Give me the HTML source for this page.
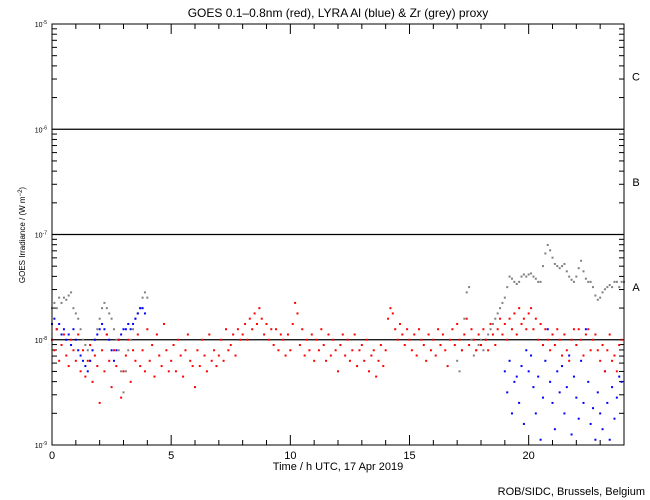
<!DOCTYPE html>
<html><head><meta charset="utf-8"><style>
body{margin:0;background:#fff;}
svg{display:block;font-family:"Liberation Sans",sans-serif;}
</style></head><body>
<svg id="chart" width="650" height="500">
<rect width="650" height="500" fill="#fff"/>
<text x="338" y="17" font-size="12" text-anchor="middle">GOES 0.1–0.8nm (red), LYRA Al (blue) &amp; Zr (grey) proxy</text>
<text x="338" y="470" font-size="11" text-anchor="middle">Time / h UTC, 17 Apr 2019</text>
<text x="645" y="495" font-size="11" text-anchor="end">ROB/SIDC, Brussels, Belgium</text>
<text transform="translate(25,235) rotate(-90)" font-size="8" text-anchor="middle">GOES Irradiance / (W m<tspan dy="-3" font-size="6">−2</tspan><tspan dy="3">)</tspan></text>
<g id="axes"></g>
<g id="series"></g>
<rect x="52" y="24" width="572" height="421" fill="none" stroke="#000" stroke-width="1"/>
</svg>
<script>
const xTicks=[0,5,10,15,20];
const yDecades=[-9,-8,-7,-6,-5];
const classLabels=["A","B","C"];
const redValues=[
0.0,-0.1,0.1,-0.2,-0.05,0.05,-0.15,-0.25,0.0,-0.1,
-0.2,0.05,-0.3,-0.1,-0.35,-0.2,-0.05,-0.4,-0.15,-0.25,
-0.6,-0.1,-0.3,0.05,-0.2,-0.45,-0.1,-0.25,0.0,-0.55,
-0.3,-0.15,0.0,-0.4,-0.1,-0.2,0.05,-0.25,-0.1,-0.3,
0.1,-0.2,-0.05,-0.35,0.05,-0.15,-0.25,0.15,-0.1,-0.3,
-0.2,-0.05,-0.3,0.0,-0.15,-0.35,-0.1,0.05,-0.2,-0.25,
-0.45,-0.1,-0.25,0.0,-0.15,-0.3,0.05,-0.2,-0.1,-0.25,
-0.15,0.0,-0.2,0.1,-0.1,-0.05,0.05,-0.15,0.1,0.0,
0.05,0.15,0.0,0.2,0.1,0.25,0.15,0.3,0.2,0.05,
0.15,0.0,0.1,-0.05,0.1,-0.1,0.05,0.0,-0.15,0.05,
-0.1,0.15,0.35,0.25,-0.05,0.1,-0.15,0.0,-0.1,0.05,
-0.2,0.0,-0.1,0.1,-0.05,-0.2,0.05,-0.15,0.0,-0.1,
-0.3,-0.05,0.05,-0.15,0.0,-0.2,-0.1,0.05,-0.25,-0.1,
-0.05,-0.2,0.0,-0.3,-0.15,-0.1,-0.35,-0.2,-0.05,-0.25,
-0.1,0.2,0.3,0.25,0.1,0.0,0.15,0.05,-0.05,0.1,
0.0,-0.1,0.05,-0.15,0.1,0.0,-0.05,-0.2,0.05,-0.1,
0.0,-0.15,0.1,-0.05,0.05,-0.1,-0.25,0.0,0.1,-0.05,
0.15,0.0,-0.1,0.05,0.2,-0.05,0.1,0.0,-0.1,0.05,
-0.05,0.1,0.0,-0.1,0.15,0.05,-0.05,0.1,0.2,0.05,
0.15,0.0,0.2,0.1,0.25,0.05,0.3,0.15,0.2,0.1,
0.25,0.3,0.1,0.2,0.0,0.15,-0.05,0.1,0.0,-0.1,
0.05,-0.05,0.1,0.0,-0.15,0.05,-0.1,-0.2,0.0,0.1,
-0.05,0.1,0.0,-0.15,0.05,0.1,-0.1,0.0,0.05,-0.1,
-0.2,-0.05,-0.3,-0.1,0.05,-0.2,-0.15,-0.3,-0.05,0.0];
const redStart=0;
const greyEarly=[0.3,0.35,0.3,0.4,0.35,0.4,0.38,0.42,0.45,0.3,0.25,0.2,0.1,0.0,-0.05,-0.1,-0.2,-0.1,0.0,0.1,0.2,0.3,0.35,0.3,0.25,0.2,0.1,0.0,-0.1,-0.3,-0.5,-0.3,-0.1,0.0,0.1,0.2,0.25,0.3,0.4,0.45,0.4];
const greyEarlyStart=0;
const greyLate=[
-0.2,-0.3,-0.1,0.2,0.45,0.5,0.0,-0.15,-0.1,-0.05,
0.0,-0.1,0.0,0.05,0.1,0.15,0.2,0.25,0.3,0.35,
0.4,0.5,0.6,0.58,0.55,0.53,0.55,0.6,0.62,0.6,
0.62,0.63,0.6,0.58,0.55,0.55,0.7,0.82,0.9,0.85,
0.78,0.72,0.7,0.68,0.7,0.72,0.65,0.6,0.57,0.55,
0.6,0.68,0.75,0.65,0.58,0.55,0.55,0.5,0.42,0.38,
0.4,0.45,0.48,0.5,0.52,0.5,0.55,0.55,0.5,0.55,0.55];
const greyLateStart=17;
const blueEarly=[0.15,0.2,0.1,0.15,0.05,0.1,0.0,0.05,-0.05,0.1,0.0,-0.1,-0.15,-0.2,-0.25,-0.3,-0.2,-0.1,0.0,0.05,0.1,0.15,0.1,0.05,0.0,-0.1,-0.2,-0.1,0.0,0.05,0.1,0.1,0.15,0.1,0.15,0.2,0.25,0.3,0.3,0.25];
const blueEarlyStart=0;
const blueLate=[
-0.3,-0.5,-0.2,-0.7,-0.4,-0.35,-0.6,-0.25,-0.8,-0.1,
-0.3,-0.15,-0.45,-0.7,-0.35,-0.95,-0.55,-0.2,0.1,-0.4,
-0.6,-0.85,-0.3,-0.5,-0.25,-0.7,-0.45,-0.15,-0.9,-0.35,
-0.55,-0.75,-0.2,-0.6,0.1,-0.4,-0.8,-0.65,-0.95,-0.5,
-0.7,-0.85,-0.3,-0.6,-0.95,-0.45,-0.75,-0.55,-0.35,-0.4];
const blueLateStart=19;
const stepH=0.1;

const NS="http://www.w3.org/2000/svg";
const X0=52,X1=624,Y0=24,Y1=445;
function xs(h){return X0+(X1-X0)*h/24;}
function ys(lg){return Y1-(Y1-Y0)*(lg+9)/4;}
const axes=document.getElementById('axes');
const series=document.getElementById('series');
function mk(tag,attrs,parent){const e=document.createElementNS(NS,tag);for(const k in attrs)e.setAttribute(k,attrs[k]);parent.appendChild(e);return e;}

for(let h=0;h<=24;h++){
  const len=xTicks.includes(h)?10:5;
  const t1=mk('line',{x1:xs(h),x2:xs(h),y1:Y1,y2:Y1-len,stroke:'#000'},axes);
  
  
  const t2=mk('line',{x1:xs(h),x2:xs(h),y1:Y0,y2:Y0+len,stroke:'#000'},axes);
  
  
}
xTicks.forEach(h=>{
  const t=mk('text',{x:xs(h),y:Y1+14,'font-size':11,'text-anchor':'middle'},axes);
  t.textContent=String(h);
  
  
});
yDecades.forEach((d,i)=>{
  const y=ys(d);
  if(d>-9&&d<-5){
    const l=mk('line',{x1:X0,x2:X1,y1:y,y2:y,stroke:'#000','stroke-width':1.2},axes);
    
    
  }
  const t=mk('text',{x:X0-5,y:y+3,'font-size':7,'text-anchor':'end'},axes);
  t.innerHTML='10<tspan dy="-3" font-size="5">'+d+'</tspan>';
  
  
  if(d<-5){
    for(let m=2;m<=9;m++){
      const yy=ys(d+Math.log10(m));
      const a=mk('line',{x1:X0,x2:X0+5,y1:yy,y2:yy,stroke:'#000'},axes);
      
      
      const b=mk('line',{x1:X1,x2:X1-5,y1:yy,y2:yy,stroke:'#000'},axes);
      
      
    }
  }
});
classLabels.forEach((c,i)=>{
  const t=mk('text',{x:636,y:ys(-7.5+i)+4,'font-size':11,'text-anchor':'middle'},axes);
  t.textContent=c;
  
  
});
function plot(arr,start,color,name){
  arr.forEach((v,i)=>{
    const h=start+i*stepH;
    const r=mk('rect',{x:xs(h)-1,y:ys(v-8)-1,width:2,height:2,fill:color},series);
    
    
  });
}
plot(greyEarly,greyEarlyStart,'#808080','zr-proxy-point');
plot(greyLate,greyLateStart,'#808080','zr-proxy-point');
plot(blueEarly,blueEarlyStart,'#0000ff','lyra-al-point');
plot(blueLate,blueLateStart,'#0000ff','lyra-al-point');
plot(redValues,redStart,'#ff0000','goes-point');
</script>
</body></html>
